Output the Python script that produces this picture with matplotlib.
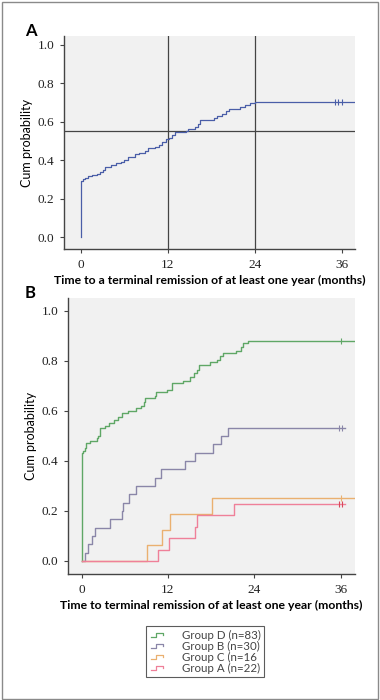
import matplotlib
matplotlib.use("Agg")
import matplotlib.pyplot as plt
import numpy as np
from matplotlib.lines import Line2D
from matplotlib.legend_handler import HandlerBase
from matplotlib.patches import Rectangle

# panel A: whole cohort
a_times = [0, 0, 0.3, 0.6, 1.0, 1.5, 2.2, 2.6, 3.0, 3.3, 4.1, 4.8, 5.5, 6.0, 6.5, 7.5, 8.0,
           8.8, 9.2, 10.2, 10.8, 11.2, 11.8, 12.2, 12.6, 13.0, 14.5, 14.8, 15.8, 16.1, 16.4,
           18.3, 18.8, 19.5, 20.0, 20.5, 21.9, 22.6, 23.3, 24.0, 38.0]
a_values = [0, 0.29, 0.30, 0.31, 0.32, 0.325, 0.33, 0.34, 0.35, 0.365, 0.375, 0.385, 0.39,
            0.40, 0.415, 0.43, 0.44, 0.45, 0.465, 0.47, 0.48, 0.495, 0.51, 0.515, 0.53, 0.545,
            0.55, 0.56, 0.57, 0.59, 0.61, 0.62, 0.63, 0.64, 0.655, 0.665, 0.675, 0.685, 0.695,
            0.70, 0.70]
a_censor = [35.0, 35.5, 36.0]

# panel B: groups
group_names = ["Group D (n=83)", "Group B (n=30)", "Group C (n=16", "Group A (n=22)"]
group_colors = ["#5fa766", "#8a86a8", "#eab070", "#ef8099"]
d_times = [0, 0, 0.2, 0.4, 0.6, 1.15, 2.1, 2.3, 2.5, 3.2, 3.8, 4.5, 5.1, 5.6, 6.5, 7.6, 8.3,
           8.6, 8.8, 10.2, 10.4, 11.8, 12.6, 14.1, 15.1, 15.6, 16.0, 16.3, 17.9, 18.8, 19.2,
           19.7, 21.4, 22.1, 22.4, 23.1, 38.0]
d_values = [0, 0.43, 0.44, 0.45, 0.47, 0.48, 0.49, 0.50, 0.53, 0.54, 0.55, 0.565, 0.575, 0.59,
            0.60, 0.61, 0.62, 0.635, 0.65, 0.66, 0.675, 0.685, 0.71, 0.72, 0.735, 0.75, 0.765,
            0.785, 0.795, 0.805, 0.82, 0.83, 0.84, 0.855, 0.87, 0.88, 0.88]
b_times = [0, 0.5, 0.9, 1.5, 1.9, 3.9, 5.6, 5.7, 6.6, 7.6, 10.2, 11.0, 14.3, 15.8, 18.3,
           19.4, 20.4, 36.6]
b_values = [0, 0.033, 0.067, 0.10, 0.133, 0.167, 0.20, 0.233, 0.267, 0.30, 0.333, 0.367,
            0.40, 0.433, 0.467, 0.50, 0.533, 0.533]
c_times = [0, 9.1, 11.2, 12.3, 18.1, 38.0]
c_values = [0, 0.0625, 0.125, 0.1875, 0.25, 0.25]
ga_times = [0, 10.6, 12.1, 15.8, 16.0, 21.2, 36.6]
ga_values = [0, 0.045, 0.091, 0.136, 0.182, 0.227, 0.227]
group_times = [d_times, b_times, c_times, ga_times]
group_values = [d_values, b_values, c_values, ga_values]
group_censor = [[36.0], [35.8, 36.2], [36.0], [35.8, 36.2]]
censor_colors = ["#5fa766", "#8a86a8", "#eab070", "#d9485a"]

x_ticks = [0, 12, 24, 36]
y_ticks = [0.0, 0.2, 0.4, 0.6, 0.8, 1.0]

BG = "#f1f1f1"
SPINE = "#444444"
LABEL_FONT = "Lato"
TICK_FONT = "Liberation Serif"


class StepHandler(HandlerBase):
    def create_artists(self, legend, orig_handle, xdescent, ydescent, width, height, fontsize, trans):
        xs = np.array([0.1, 0.35, 0.35, 0.75, 0.75]) * width - xdescent
        ys = np.array([0.2, 0.2, 0.75, 0.75, 0.45]) * height - ydescent
        ln = Line2D(xs, ys, color=orig_handle.get_color(), lw=0.9, transform=trans)
        return [ln]


def style_axes(ax, xlim, ylim, xlabel):
    ax.set_facecolor(BG)
    ax.set_xlim(*xlim)
    ax.set_ylim(*ylim)
    ax.set_xticks(x_ticks)
    ax.set_yticks(y_ticks)
    ax.set_yticklabels([f"{v:.1f}" for v in y_ticks])
    for s in ["top", "right"]:
        ax.spines[s].set_visible(False)
    for s in ["left", "bottom"]:
        ax.spines[s].set_color(SPINE)
        ax.spines[s].set_linewidth(1.0)
    ax.tick_params(direction="out", length=3, width=0.8, color=SPINE, labelsize=9.5,
                   labelcolor="#222222", pad=4, labelfontfamily=TICK_FONT)
    ax.set_ylabel("Cum probability", fontfamily=LABEL_FONT, fontsize=9, labelpad=3)
    ax.set_xlabel(xlabel, fontfamily=LABEL_FONT, fontweight="bold", fontsize=8.8, labelpad=3)


fig = plt.figure(figsize=(3.8, 7), dpi=100)
fig.patches.append(Rectangle((0.004, 0.002), 0.992, 0.995, transform=fig.transFigure,
                             fill=False, edgecolor="#8a8a8a", lw=1.0))

# panel A
ax1 = fig.add_axes([0.168, 0.644, 0.766, 0.305])
ax1.step(a_times, a_values, where="post", color="#4a5ea8", lw=0.9, zorder=3)
ax1.plot(a_censor, [a_values[-1]] * len(a_censor), ls="none", marker="|", ms=4,
         mew=0.8, color="#4a5ea8", zorder=3)
for xv in [12, 24]:
    ax1.axvline(xv, color=SPINE, lw=0.9, zorder=2)
ax1.axhline(0.55, color=SPINE, lw=0.9, zorder=2)
style_axes(ax1, (-2.35, 37.8), (-0.0625, 1.047),
           "Time to a terminal remission of at least one year (months)")
fig.text(0.065, 0.955, "A", fontfamily=LABEL_FONT, fontweight="bold", fontsize=12,
         ha="left", va="center")

# panel B
ax2 = fig.add_axes([0.179, 0.180, 0.755, 0.395])
handles = []
for t, v, c, cens, cc in zip(group_times, group_values, group_colors, group_censor, censor_colors):
    h, = ax2.step(t, v, where="post", color=c, lw=1.0, zorder=3)
    ax2.plot(cens, [v[-1]] * len(cens), ls="none", marker="|", ms=4, mew=0.8, color=cc, zorder=3)
    handles.append(h)
style_axes(ax2, (-1.9, 38.0), (-0.052, 1.053),
           "Time to terminal remission of at least one year (months)")
fig.text(0.065, 0.582, "B", fontfamily=LABEL_FONT, fontweight="bold", fontsize=12,
         ha="left", va="center")

leg = fig.legend(handles, group_names, handler_map={Line2D: StepHandler()},
                 loc="center", bbox_to_anchor=(0.54, 0.069), frameon=True, fancybox=False,
                 edgecolor="#333333", labelspacing=0.0, handlelength=1.6,
                 handletextpad=1.2, borderpad=0.3, borderaxespad=0.0,
                 prop={"family": LABEL_FONT, "size": 8.3})
leg.get_frame().set_linewidth(0.8)
for txt in leg.get_texts():
    txt.set_color("#444444")

fig.savefig("out.png", dpi=100)
